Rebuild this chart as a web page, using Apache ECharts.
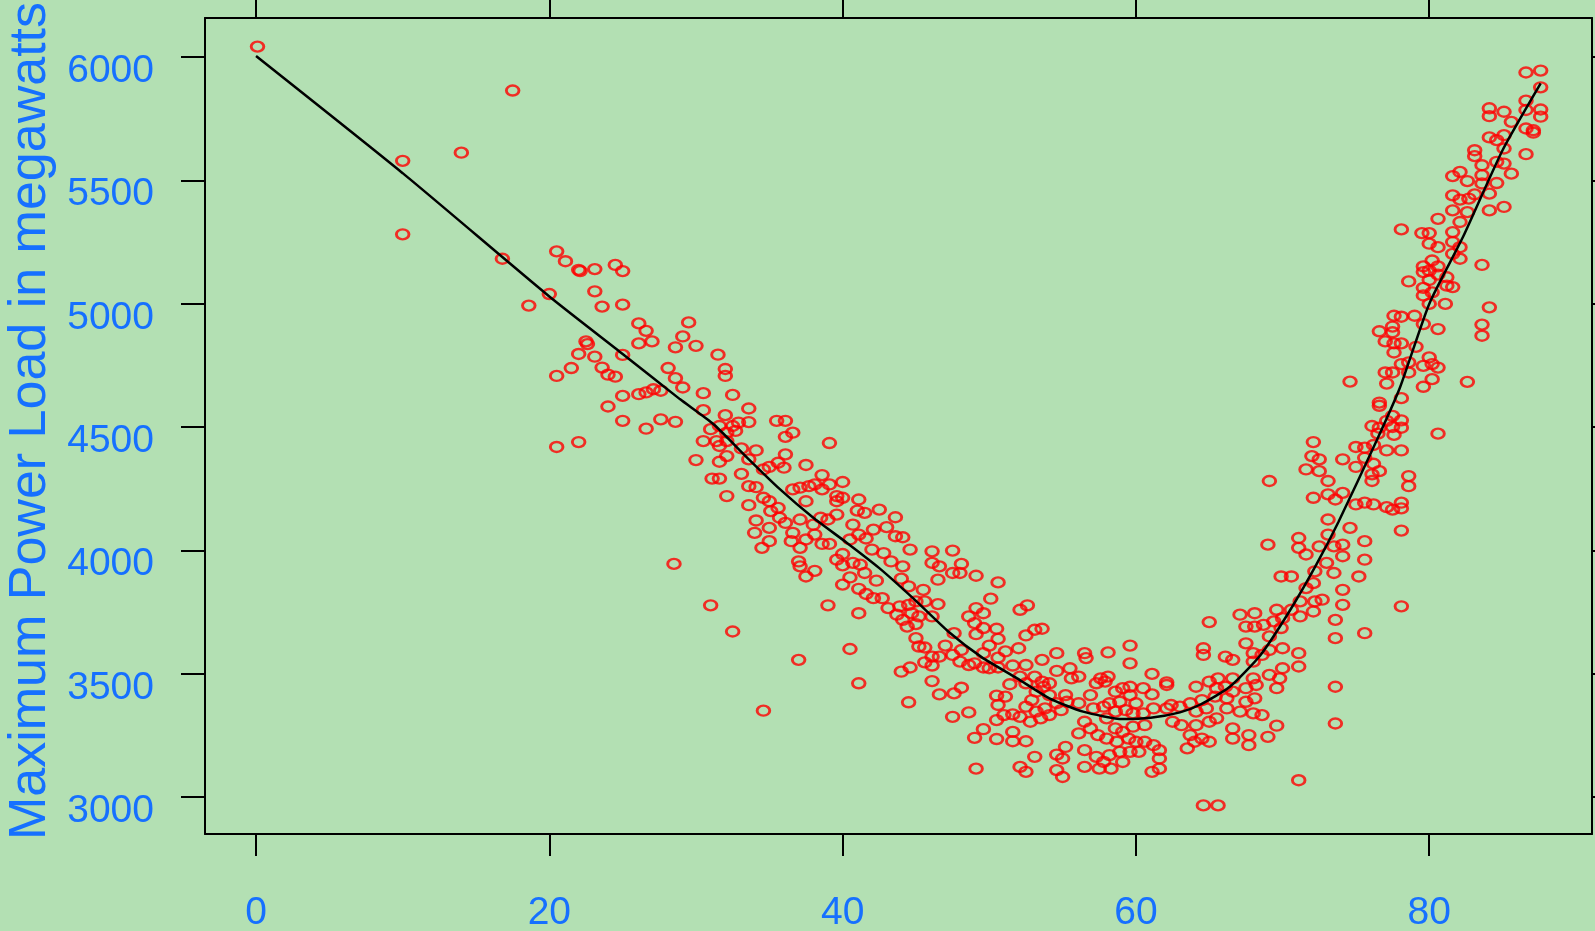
<!DOCTYPE html>
<html><head><meta charset="utf-8">
<script src="https://cdn.jsdelivr.net/npm/echarts@6/dist/echarts.min.js"></script>
<style>html,body{margin:0;padding:0;background:#b3e0b3;}#chart{width:1595px;height:931px;}</style>
</head><body><div id="chart"></div>
<script>
const xTicks = [0, 20, 40, 60, 80];
const yTicks = [3000, 3500, 4000, 4500, 5000, 5500, 6000];
const yTitle = 'Maximum Power Load in megawatts';

const fitTemp = [0, 10, 20, 25, 28.9, 31.2, 33.5, 35.7, 38, 40.3, 42.5, 44.8, 47.2, 49.5, 51.9, 54.1, 56.4, 59.1, 61, 63, 64.4, 66.4, 68.5, 70.5, 72.3, 73.8, 76.4, 78, 80, 82.3, 85, 87.6];
const fitLoad = [6005, 5530, 5030, 4797, 4614, 4512, 4376, 4250, 4133, 4031, 3929, 3807, 3672, 3567, 3482, 3401, 3347, 3317, 3322, 3344, 3376, 3448, 3577, 3757, 3943, 4115, 4444, 4660, 5000, 5271, 5623, 5894];

const loadPoints = [
[0.1,6043],[10.0,5580],[10.0,5282],[14.0,5613],[17.5,5865],
[16.8,5183],[20.5,5213],[21.1,5173],[22.0,5138],[22.1,5133],[23.1,5141],[24.5,5158],[25.0,5133],[20.0,5040],[18.6,4993],[23.1,5051],[23.6,4989],[25.0,4997],[26.1,4921],[26.6,4891],[27.0,4848],[26.1,4840],[29.5,4925],[29.1,4868],[28.6,4824],[30.0,4830],[22.5,4848],[22.6,4837],[22.0,4797],[23.1,4786],[25.0,4793],[21.5,4740],[20.5,4708],[23.6,4742],[24.0,4713],[24.5,4705],[28.1,4740],[28.6,4699],[29.1,4661],[31.5,4794],[25.0,4627],[26.1,4634],[26.6,4641],[27.1,4654],[27.6,4648],[24.0,4584],[25.0,4526],[26.6,4494],[27.6,4532],[28.6,4522],[20.5,4420],[22.0,4440],
[28.5,3946],
[32.0,4736],[32.0,4708],[30.5,4638],[32.5,4631],[30.5,4569],[33.6,4576],[32.0,4549],[33.6,4521],[31.0,4492],[31.6,4505],[32.5,4505],[32.9,4519],[32.1,4478],[32.7,4485],[30.5,4444],[31.4,4444],[31.6,4424],[32.1,4444],[33.1,4414],[34.1,4406],[30.0,4367],[31.6,4360],[32.1,4383],[33.6,4370],[33.1,4311],[31.1,4292],[31.6,4292],[32.1,4221],[33.6,4184],[33.6,4261],[34.1,4257],[34.6,4329],[35.0,4339],[35.6,4356],[36.1,4390],[36.0,4336],[34.6,4214],[35.0,4200],[35.6,4173],[35.5,4526],[36.1,4526],[36.1,4461],[36.6,4478],[37.5,4347],[38.6,4306],[39.1,4436],[36.6,4248],[37.1,4255],[37.7,4261],[38.1,4268],[38.6,4248],[39.1,4268],[40.0,4278],[39.6,4221],[40.0,4214],[39.6,4200],[37.5,4200],[35.1,4160],[35.7,4133],[34.1,4122],[34.0,4072],[35.0,4092],[35.0,4038],[34.5,4011],[36.1,4112],[36.6,4072],[37.1,4126],[36.5,4038],[37.1,4011],[37.5,4045],[38.0,4105],[38.1,4065],[38.6,4027],[39.1,4027],[38.5,4133],[39.0,4126],[39.6,4146],[37.0,3956],[37.1,3936],[37.5,3895],[38.1,3918],[39.6,3963],[40.0,3986],[40.0,3862],[40.5,3891],[40.0,3940],[40.5,4045],[39.0,3778],[40.5,3601],[31.0,3778],[32.5,3672],[37.0,3557],[41.1,4207],
[34.6,3351],
[41.0,4162],[41.5,4153],[42.5,4166],[43.6,4135],[40.7,4105],[42.1,4085],[43.0,4095],[41.1,4065],[41.6,4049],[43.6,4058],[44.1,4054],[44.6,4004],[42.0,4004],[42.8,3990],[43.3,3956],[44.1,3936],[41.2,3943],[40.7,3950],[41.5,3909],[42.3,3878],[44.0,3886],[44.5,3855],[45.5,3841],[41.1,3845],[41.6,3824],[42.1,3807],[42.7,3807],[43.1,3767],[43.9,3774],[44.5,3780],[45.0,3794],[45.6,3794],[46.5,3783],[46.1,3733],[43.7,3740],[44.1,3719],[44.7,3746],[45.2,3733],[44.4,3692],[45.0,3702],[41.1,3746],[45.0,3645],[45.2,3611],[45.6,3607],[46.1,3997],[47.5,4000],[46.1,3950],[46.6,3936],[46.5,3882],[47.5,3909],[48.1,3946],[48.0,3909],[49.1,3898],[50.6,3871],[50.1,3805],[52.1,3760],[52.6,3778],[49.1,3767],[49.6,3746],[48.6,3733],[49.0,3706],[49.6,3686],[49.1,3661],[47.6,3665],[47.0,3615],[50.5,3683],[50.6,3642],[50.0,3615],[52.5,3656],[53.1,3679],[53.6,3683],[52.0,3604],[46.1,3570],[46.6,3570],[45.6,3547],[46.1,3534],[47.5,3577],[48.1,3597],[48.0,3550],[48.6,3536],[49.0,3543],[49.6,3584],[49.6,3526],[50.0,3523],[50.6,3566],[50.6,3526],[51.1,3591],[51.6,3534],[52.5,3536],[53.6,3557],[54.6,3584],[56.5,3584],[56.6,3564],[44.0,3509],[44.6,3526],[46.1,3471],[46.6,3417],[47.6,3421],[48.1,3444],[47.5,3326],[48.6,3344],[41.1,3462],[44.5,3385],[50.5,3412],[51.1,3408],[51.4,3458],[52.1,3489],[52.5,3462],[53.1,3489],[53.6,3469],[54.1,3462],[54.6,3512],[55.5,3523],[56.1,3489],[55.6,3482],[50.6,3374],[51.0,3333],[50.5,3313],[51.6,3336],[52.1,3326],[52.5,3367],[52.9,3394],[53.2,3428],[53.7,3448],[54.1,3414],[54.6,3381],[55.2,3414],[53.2,3347],[53.8,3360],[52.8,3306],[53.5,3320],[54.1,3333],[54.9,3353],[55.3,3387],[56.1,3381],[56.9,3414],[57.3,3462],[57.6,3482],[57.1,3360],[56.5,3306],[56.1,3259],[56.9,3279],[56.5,3191],[57.3,3164],[57.4,3252],[49.6,3276],[49.0,3241],[50.5,3236],[51.6,3265],[51.6,3227],[52.5,3227],[54.6,3173],[55.2,3204],[55.0,3157],[53.1,3164],[52.1,3123],[52.5,3103],[54.6,3110],[55.0,3082],[49.1,3116],[56.5,3123],[57.5,3116],
[58.1,3587],[59.6,3615],[59.6,3543],[61.1,3500],[62.1,3466],[62.1,3455],[58.1,3489],[57.9,3469],[58.6,3428],[59.1,3442],[59.6,3448],[59.6,3414],[60.0,3381],[60.5,3442],[61.1,3417],[58.9,3387],[58.2,3381],[57.8,3367],[58.0,3320],[58.6,3347],[59.3,3353],[59.8,3340],[60.5,3340],[61.2,3360],[60.6,3292],[58.6,3279],[59.1,3265],[59.8,3286],[58.0,3238],[58.7,3225],[59.5,3238],[60.0,3225],[59.6,3184],[58.9,3184],[58.2,3171],[57.8,3143],[58.3,3116],[59.1,3143],[60.2,3184],[60.6,3225],[61.2,3211],[61.6,3191],[61.6,3157],[61.6,3116],[61.1,3103],
[62.1,3360],[62.4,3374],[63.0,3367],[62.5,3306],[63.1,3292],[63.7,3381],[64.1,3448],[64.5,3394],[64.8,3360],[64.1,3347],[64.1,3292],[63.7,3252],[63.5,3198],[64.0,3225],[64.5,3238],[65.0,3225],[65.0,3306],[65.5,3320],[65.6,3482],[65.5,3442],[65.4,3408],[65.0,3469],[66.1,3448],[66.2,3401],[66.2,3360],[66.6,3482],[66.6,3428],[67.1,3347],[66.6,3279],[66.6,3238],[67.7,3252],[67.7,3211],[67.5,3387],[68.0,3340],[68.6,3333],[68.1,3401],[68.2,3455],[67.5,3442],[68.0,3482],[69.1,3496],[69.6,3442],[70.0,3523],[69.8,3482],[69.0,3245],[69.6,3290],
[64.6,3604],[64.6,3577],[66.1,3570],[66.6,3557],[67.1,3740],[67.5,3692],[68.1,3746],[68.1,3692],[68.7,3699],[67.5,3624],[68.0,3584],[68.0,3550],[68.6,3577],[69.1,3597],[70.0,3604],[71.1,3584],[71.1,3530],[69.1,3652],[69.6,3760],[70.0,3726],[70.6,3760],[69.4,3713],[69.9,3686],[71.2,3733],[71.2,3794],[72.1,3753],[72.2,3794],[72.7,3801],[71.6,3848],[72.1,3868],[69.9,3895],[70.6,3895],[71.1,4051],[71.1,4011],[71.6,3984],[72.5,4017],[73.1,4065],[73.5,4017],[73.0,3950],[73.5,3909],[74.1,3977],[74.1,4024],[74.6,4092],[75.6,4038],[75.6,3963],[75.2,3895],[74.1,3841],[74.1,3780],[73.6,3719],[73.6,3645],[75.6,3665],[73.6,3448],[73.6,3299],[71.1,3069],[64.6,2967],[65.6,2967],[65.0,3710],[69.0,4024],[78.1,3774],[72.2,3916],
[77.6,4952],[78.1,4948],[79.0,4952],[77.5,4908],[76.6,4889],[77.5,4885],[79.6,4918],[80.6,4898],[81.1,5000],[80.0,5000],[84.1,4986],[83.6,4916],[83.6,4871],[77.0,4848],[77.6,4840],[78.1,4840],[77.6,4803],[79.1,4826],[80.0,4783],[80.6,4742],[79.6,4749],[80.2,4756],[77.0,4722],[77.5,4722],[78.1,4756],[78.6,4763],[78.6,4722],[77.1,4677],[79.6,4664],[80.2,4695],[82.6,4684],[74.6,4685],[78.1,4618],[76.6,4600],[76.6,4587],[77.5,4546],[77.1,4526],[78.1,4528],[76.1,4505],[76.6,4498],[77.5,4501],[78.1,4498],[76.5,4474],[77.6,4469],[80.6,4474],[75.0,4420],[75.6,4417],[76.2,4428],[77.1,4406],[78.1,4406],[72.1,4440],[72.0,4383],[72.5,4370],[71.6,4329],[72.5,4322],[74.1,4370],[75.0,4339],[75.6,4376],[76.2,4352],[76.6,4322],[76.1,4309],[76.1,4282],[69.1,4282],[73.1,4282],[73.1,4228],[72.1,4214],[73.6,4207],[74.1,4234],[75.0,4187],[75.6,4194],[76.2,4187],[77.1,4176],[77.5,4166],[78.1,4194],[78.1,4171],[78.6,4302],[78.6,4261],[73.1,4126],[78.1,4081],
[86.6,5938],[87.6,5946],[87.6,5878],[86.6,5824],[84.1,5793],[84.1,5761],[85.1,5779],[85.6,5738],[86.6,5786],[87.6,5788],[87.6,5759],[86.6,5711],[87.1,5704],[87.1,5694],[84.1,5675],[84.6,5664],[85.1,5684],[85.1,5630],[83.1,5623],[83.1,5599],[86.6,5607],[83.6,5562],[84.6,5576],[85.1,5569],[85.6,5528],[81.6,5518],[82.1,5535],[82.6,5498],[83.6,5522],[83.6,5488],[84.6,5490],[81.6,5440],[82.1,5423],[82.7,5427],[83.1,5444],[84.1,5447],[81.6,5379],[82.6,5372],[84.1,5379],[85.1,5393],[80.6,5345],[82.1,5332],[78.1,5302],[79.5,5287],[80.0,5287],[80.0,5244],[80.6,5230],[81.6,5291],[81.6,5251],[82.1,5230],[81.6,5203],[82.1,5183],[83.6,5158],[79.6,5152],[80.2,5176],[79.6,5129],[80.0,5135],[80.6,5152],[78.6,5091],[79.6,5065],[80.0,5097],[80.6,5119],[81.2,5108],[81.2,5074],[81.6,5068],[79.6,5034],[80.2,5047]
];

const blue = '#1670ff';
const fontFam = '"Liberation Sans", Arial, sans-serif';
const X_MIN = -3.48, X_MAX = 91.1, Y_MIN = 2851, Y_MAX = 6159;

function xAx(pos, showLabel) {
  return {
    type: 'value', position: pos, min: X_MIN, max: X_MAX,
    axisLine: { show: true, onZero: false, lineStyle: { color: '#000', width: 2 } },
    axisTick: { show: true, inside: false, length: 22, lineStyle: { color: '#000', width: 2 }, customValues: xTicks },
    axisLabel: { show: showLabel, customValues: xTicks, formatter: v => String(v), color: blue, fontSize: 39, fontFamily: fontFam, margin: 60 },
    splitLine: { show: false }
  };
}
function yAx(pos, showLabel, name) {
  const a = {
    type: 'value', position: pos, min: Y_MIN, max: Y_MAX,
    axisLine: { show: true, onZero: false, lineStyle: { color: '#000', width: 2 } },
    axisTick: { show: true, inside: false, length: 24, lineStyle: { color: '#000', width: 2 }, customValues: yTicks },
    axisLabel: { show: showLabel, customValues: yTicks, formatter: v => String(v), color: blue, fontSize: 39, fontFamily: fontFam, margin: 51, verticalAlign: 'top', lineHeight: 28 },
    splitLine: { show: false }
  };
  if (name) {
    a.name = name; a.nameLocation = 'middle'; a.nameRotate = 90; a.nameGap = 147;
    a.nameTextStyle = { color: blue, fontSize: 52, fontFamily: fontFam, padding: [0, 0, 0, 10] };
  }
  return a;
}

const chart = echarts.init(document.getElementById('chart'), null, { renderer: 'canvas' });
chart.setOption({
  backgroundColor: '#b3e0b3',
  animation: false,
  grid: { left: 205, top: 18, right: 3, bottom: 97, containLabel: false, outerBoundsMode: 'none' },
  xAxis: [xAx('bottom', true), xAx('top', false)],
  yAxis: [yAx('left', true, yTitle), yAx('right', false, null)],
  series: [
    {
      type: 'scatter', data: loadPoints, symbol: 'circle', symbolSize: [12.6, 10],
      itemStyle: { color: 'rgba(0,0,0,0)', borderColor: '#ff0000', borderWidth: 2.6 },
      silent: true, z: 2
    },
    {
      type: 'line', data: fitTemp.map((t, i) => [t, fitLoad[i]]), showSymbol: false, smooth: 0.2,
      lineStyle: { color: '#000', width: 2.5 }, silent: true, z: 3
    }
  ]
});
</script>
</body></html>
